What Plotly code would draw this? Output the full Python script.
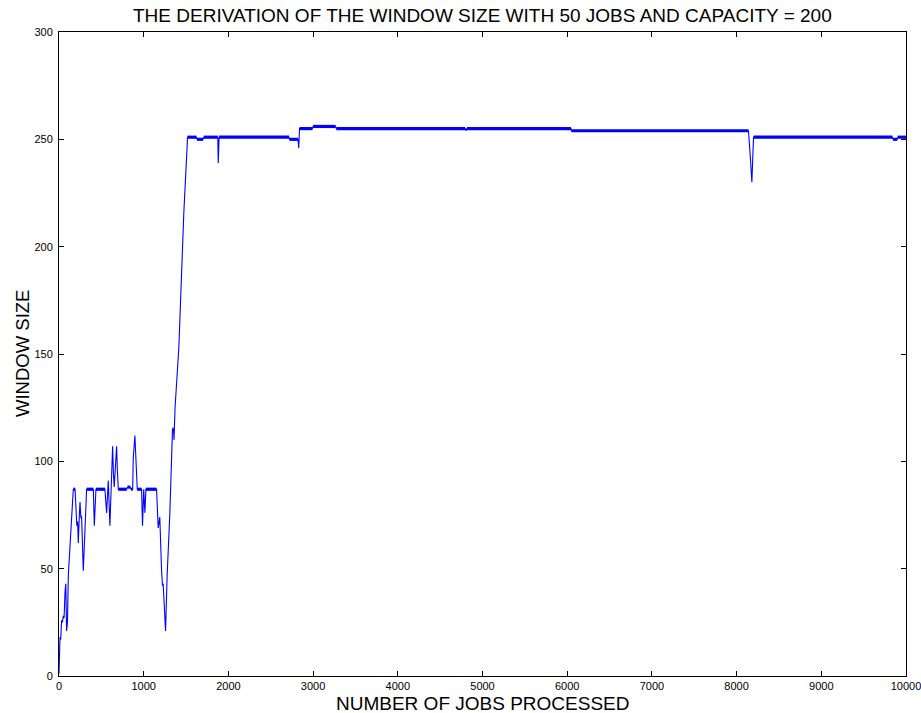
import plotly.graph_objects as go

# Window size recorded against the number of jobs processed
jobs = [
    0, 12, 20, 31, 40, 51, 60, 71, 80, 90, 100, 110, 130, 149, 169, 190, 200, 210,
    220, 228, 240, 248, 258, 267, 287, 306, 326, 405, 417, 436, 542, 562, 582, 601,
    621, 633, 642, 652, 670, 680, 690, 700, 800, 810, 840, 850, 870, 876, 896, 906,
    915, 924, 975, 986, 1000, 1014, 1026, 1152, 1171, 1190, 1211, 1222, 1230, 1242,
    1258, 1277, 1309, 1340, 1352, 1358, 1370, 1415, 1446, 1474, 1513, 1517, 1623,
    1630, 1700, 1710, 1875, 1880, 1890, 2716, 2722, 2822, 2830, 2840, 2991, 3000,
    3266, 3275, 4795, 4805, 4815, 6045, 6050, 8140, 8165, 8180, 8200, 9840, 9848,
    9895, 9903, 10000,
]
window = [
    1, 18, 17, 26, 25, 28, 27, 39, 43, 21, 25, 47, 60, 73, 87, 87, 76, 70,
    72, 62, 75, 81, 74, 74, 49, 69, 87, 87, 70, 87, 87, 76, 91, 70,
    98, 107, 95, 88, 100, 107, 95, 87, 87, 88, 88, 87, 87, 101, 112, 101,
    95, 87, 87, 70, 87, 76, 87, 87, 69, 74, 49, 42, 43, 31,
    21, 47, 76, 115, 115, 110, 125, 153, 185, 216, 247, 251, 251,
    250, 250, 251, 251, 239, 251, 251, 250, 250, 246, 255, 255, 256,
    256, 255, 255, 254, 255, 255, 254, 254, 240, 230, 251, 251, 250,
    250, 251, 251,
]

x_ticks = list(range(0, 10001, 1000))
x_tick_labels = [str(v) for v in x_ticks]
y_ticks = list(range(0, 301, 50))
y_tick_labels = [str(v) for v in y_ticks]

BLUE = "#0000FF"
FONT = "Liberation Sans, Arial, sans-serif"

# Flat stretches fluctuate by one unit around their level, so they render heavier
flat_x, flat_y = [], []
for i in range(len(jobs) - 1):
    if window[i] == window[i + 1]:
        flat_x += [jobs[i], jobs[i + 1], None]
        flat_y += [window[i], window[i + 1], None]

fig = go.Figure()
fig.add_trace(go.Scatter(
    x=jobs, y=window, mode="lines",
    line=dict(color=BLUE, width=1.1),
    hoverinfo="skip", showlegend=False,
))
fig.add_trace(go.Scatter(
    x=flat_x, y=flat_y, mode="lines",
    line=dict(color=BLUE, width=3.2),
    hoverinfo="skip", showlegend=False,
))

axis_common = dict(
    showgrid=False, zeroline=False, automargin=False,
    showline=True, linecolor="black", linewidth=1,
    mirror="ticks", ticks="inside", ticklen=5, tickcolor="black", tickwidth=1,
    ticklabeloverflow="allow",
    tickfont=dict(family=FONT, size=11, color="black"),
)

fig.update_layout(
    width=921, height=713,
    margin=dict(l=59, r=15, t=32, b=37),
    paper_bgcolor="white", plot_bgcolor="white",
    xaxis=dict(range=[0, 10000], tickvals=x_ticks, ticktext=x_tick_labels, **axis_common),
    yaxis=dict(range=[0, 300], tickvals=y_ticks, ticktext=y_tick_labels,
               ticklabelstandoff=3, **axis_common),
    annotations=[
        dict(text="THE DERIVATION OF THE WINDOW SIZE WITH 50 JOBS AND CAPACITY = 200",
             xref="paper", yref="paper", x=0.5, y=1 + 16 / 644,
             xanchor="center", yanchor="middle", showarrow=False,
             font=dict(family=FONT, size=19, color="black")),
        dict(text="NUMBER OF JOBS PROCESSED",
             xref="paper", yref="paper", x=0.5, y=-27 / 644,
             xanchor="center", yanchor="middle", showarrow=False,
             font=dict(family=FONT, size=19, color="black")),
        dict(text="WINDOW SIZE", textangle=-90,
             xref="paper", yref="paper", x=-37 / 847, y=0.5,
             xanchor="center", yanchor="middle", showarrow=False,
             font=dict(family=FONT, size=18.5, color="black")),
    ],
)

fig.write_html("out.html")
